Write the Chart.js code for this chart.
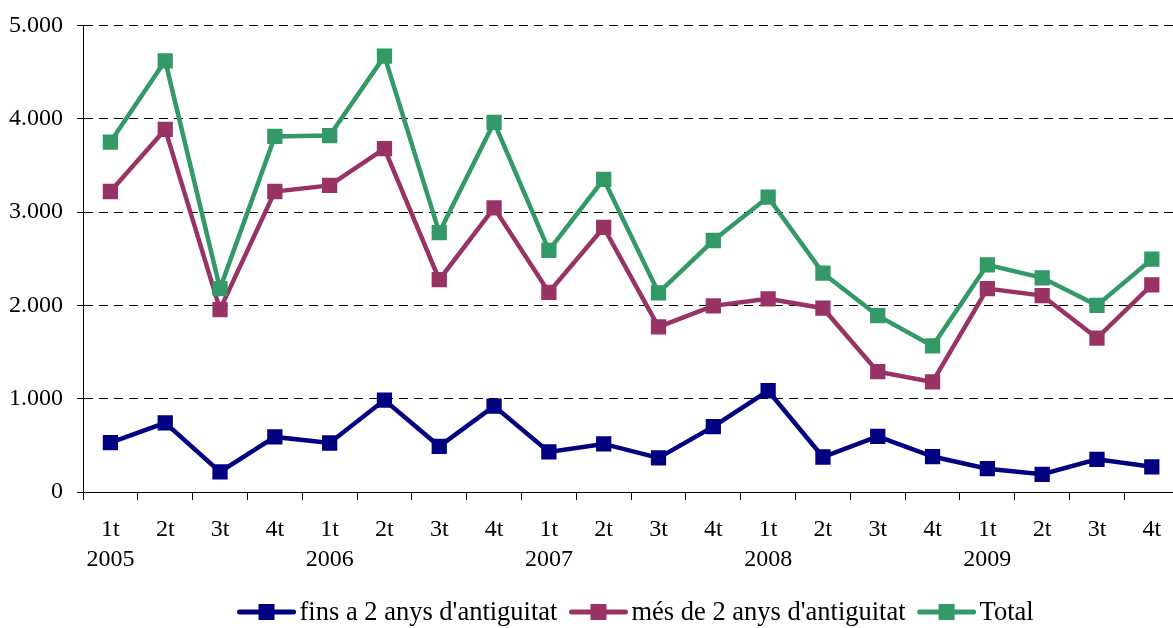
<!DOCTYPE html>
<html>
<head>
<meta charset="utf-8">
<script src="https://cdn.jsdelivr.net/npm/chart.js@4/dist/chart.umd.min.js"></script>
<style>
  html, body { margin: 0; padding: 0; background: #fff; overflow: hidden; }
  #wrap { width: 1195px; height: 631px; margin-left: -5px; margin-top: -3px; }
</style>
</head>
<body>
<div id="wrap"><canvas id="chart"></canvas></div>
<script>
const QUARTERS = ["1t", "2t", "3t", "4t"];
const YEARS = ["2005", "2006", "2007", "2008", "2009"];

const FINS_2_ANYS = [530, 740, 215, 590, 525, 985, 490, 920, 430, 515, 365, 700, 1085, 375, 595, 380, 250, 190, 350, 270];
const MES_2_ANYS = [3220, 3885, 1955, 3220, 3285, 3680, 2275, 3045, 2140, 2835, 1770, 1995, 2070, 1970, 1290, 1180, 2180, 2105, 1650, 2220];
const TOTAL = [3750, 4620, 2180, 3810, 3820, 4670, 2780, 3960, 2590, 3350, 2135, 2695, 3160, 2345, 1890, 1565, 2435, 2295, 2000, 2495];

const SERIES_NAMES = ["fins a 2 anys d'antiguitat", "més de 2 anys d'antiguitat", "Total"];
const SERIES_COLORS = ["#000080", "#993366", "#339966"];

const FONT = "'Liberation Serif', 'Times New Roman', serif";

// categories: ["1t","2005"], ["2t",""], ...
const labels = [];
YEARS.forEach(y => QUARTERS.forEach((q, i) => labels.push(i === 0 ? [q, y] : [q, ""])));

const fmt = v => v.toString().replace(/\B(?=(\d{3})+(?!\d))/g, ".");

// legend drawn as line + square marker, like the spreadsheet one
const lineLegend = {
  id: "lineLegend",
  afterDraw(chart) {
    const ctx = chart.ctx;
    const area = chart.chartArea;
    const sets = chart.data.datasets;
    const lineLen = 58, gap = 4, itemGap = 12, y = 615;
    ctx.save();
    ctx.font = "26.5px " + FONT;
    ctx.textBaseline = "middle";
    const widths = sets.map(d => lineLen + gap + ctx.measureText(d.label).width);
    const total = widths.reduce((s, w) => s + w, 0) + itemGap * (sets.length - 1);
    let x = (area.left + area.right) / 2 - total / 2 + 4.5;
    sets.forEach((d, i) => {
      ctx.strokeStyle = d.borderColor;
      ctx.lineWidth = 5;
      ctx.lineCap = "round";
      ctx.beginPath();
      ctx.moveTo(x + 2, y);
      ctx.lineTo(x + lineLen - 2, y);
      ctx.stroke();
      ctx.fillStyle = d.borderColor;
      ctx.fillRect(x + lineLen / 2 - 8, y - 8, 16, 16);
      ctx.fillStyle = "#000";
      ctx.fillText(d.label, x + lineLen + gap, y + 1);
      x += widths[i] + itemGap;
    });
    ctx.restore();
  }
};

const makeSet = (name, data, color, order) => ({
  label: name,
  data,
  borderColor: color,
  backgroundColor: color,
  borderWidth: 4.5,
  pointStyle: "rect",
  pointRadius: 10.8,
  pointBorderWidth: 0,
  pointBackgroundColor: color,
  tension: 0,
  order
});

new Chart(document.getElementById("chart"), {
  type: "line",
  data: {
    labels,
    datasets: [
      makeSet(SERIES_NAMES[0], FINS_2_ANYS, SERIES_COLORS[0], 2),
      makeSet(SERIES_NAMES[1], MES_2_ANYS, SERIES_COLORS[1], 1),
      makeSet(SERIES_NAMES[2], TOTAL, SERIES_COLORS[2], 0)
    ]
  },
  options: {
    responsive: true,
    maintainAspectRatio: false,
    animation: false,
    layout: { padding: { left: 0, top: 8, right: 4, bottom: 38 } },
    plugins: { legend: { display: false }, tooltip: { enabled: false } },
    scales: {
      x: {
        offset: true,
        grid: { offset: true, drawOnChartArea: false, color: "#000", tickLength: 8, lineWidth: 1 },
        border: { color: "#000", width: 1 },
        ticks: { color: "#000", font: { family: FONT, size: 24, lineHeight: 1.25 }, padding: 15, maxRotation: 0, autoSkip: false }
      },
      y: {
        min: 0,
        max: 5000,
        grid: { color: "#000", lineWidth: 1, tickLength: 6, tickBorderDash: [] },
        border: { color: "#000", width: 1, dash: [9, 6] },
        ticks: { stepSize: 1000, color: "#000", font: { family: FONT, size: 24 }, padding: 14, callback: v => fmt(v) }
      }
    }
  },
  plugins: [lineLegend]
});
</script>
</body>
</html>
